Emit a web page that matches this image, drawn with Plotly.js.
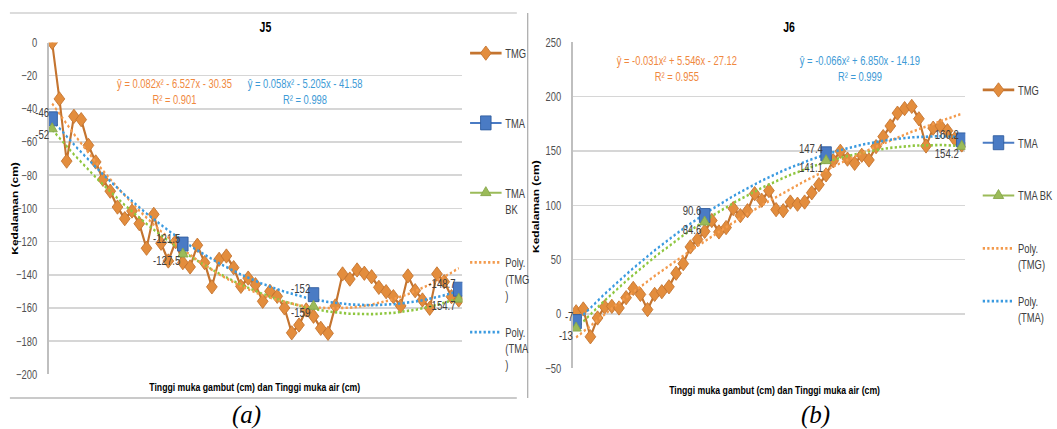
<!DOCTYPE html>
<html><head><meta charset="utf-8">
<script src="https://cdn.plot.ly/plotly-3.0.1.min.js"></script>
<style>
html,body{margin:0;padding:0;background:#fff;}
#wrap{position:relative;width:1057px;height:429px;overflow:hidden;background:#fff;}
#chart{position:absolute;left:0;top:0;width:1409px;height:429px;transform:scaleX(0.75018);transform-origin:0 0;}
#cap{position:absolute;left:0;top:0;width:1057px;height:429px;pointer-events:none;}
</style>
</head><body><div id="wrap"><div id="chart"></div><div id="cap"></div></div>
<script>
// ---------- J5 ----------
const j5Tmg = [0, -34, -71.5, -44.5, -46.5, -62, -72, -82.5, -89.6, -99.2, -106.2, -101.6, -109.2, -124, -103.6, -121, -131.7, -120, -132.7, -135.3, -122.2, -132.7, -147.3, -130.7, -128.7, -135.7, -147, -142, -146, -156, -150, -153, -160, -175, -170.3, -161.2, -165, -172.3, -175.3, -158.8, -139.5, -142.6, -137.1, -139.1, -141.2, -147.6, -150.2, -153.2, -158.8, -140.7, -149.6, -155.2, -160.2, -139.5, -144.2, -153.2, -155.2];
const j5TmaIdx = [0, 18, 36, 56];
const j5Tma = [-46, -121.5, -152, -148.7];
const j5TmaBk = [-52, -127.5, -159, -154.7];
const j5PolyTmg = [0.082, -6.527, -30.35];
const j5PolyTma = [0.058, -5.205, -41.58];
const j5EqTmg = ['ŷ = 0.082x² - 6.527x - 30.35', 'R² = 0.901'];
const j5EqTma = ['ŷ = 0.058x² - 5.205x - 41.58', 'R² = 0.998'];

// ---------- J6 ----------
const j6Tmg = [2, 4.6, -21, -3.7, 6.5, 7, 5.5, 15, 23.5, 18, 4, 18, 20.5, 25, 37.5, 46.3, 61.7, 68.5, 76, 86, 75.5, 79.5, 97, 90.5, 95, 110.7, 104.6, 113.5, 96, 95, 103, 101, 103, 111.5, 119, 128, 141, 149.7, 142.5, 138.6, 146, 141.7, 154, 163.2, 173, 184.8, 189, 191, 179.6, 154.6, 171, 173, 168.6, 161, 155.5];
const j6TmaIdx = [0, 18, 35, 54];
const j6Tma = [-7, 90.6, 147.4, 160.2];
const j6TmaBk = [-13, 84.6, 141.1, 154.2];
const j6PolyTmg = [-0.031, 5.546, -27.12];
const j6PolyTma = [-0.066, 6.850, -14.19];
const j6EqTmg = ['ŷ = -0.031x² + 5.546x - 27.12', 'R² = 0.955'];
const j6EqTma = ['ŷ = -0.066x² + 6.850x - 14.19', 'R² = 0.999'];

const legendJ5 = ['TMG', 'TMA', 'TMA<br>BK', 'Poly.<br>(TMG<br>)', 'Poly.<br>(TMA<br>)'];
const legendJ6 = ['TMG', 'TMA', 'TMA BK', 'Poly.<br>(TMG)', 'Poly.<br>(TMA)'];
const captions = ['(a)', '(b)'];

// ---------- helpers ----------
const W = 1057, H = 429, WP = 1409;   // plot drawn wide, then squeezed like the source image
const px = x => x / W, py = y => 1 - y / H;
const FONT = '"Liberation Sans", Arial, sans-serif';
const C = {
  tmgLine: '#c4742f', tmgFill: '#e38d3d', tma: '#4a7bc4', tmaEdge: '#2f5c9e',
  bk: '#9bbb59', bkEdge: '#86a64a', pTmg: '#f39a4c', pTma: '#3a9ae0', pBk: '#8ec63f',
  eqO: '#f0883e', eqB: '#3d9ad6'
};

function quadFit(xs, ys) {
  const S = [0, 0, 0, 0, 0], T = [0, 0, 0];
  xs.forEach((x, i) => {
    for (let k = 0; k < 5; k++) S[k] += Math.pow(x, k);
    for (let k = 0; k < 3; k++) T[k] += ys[i] * Math.pow(x, k);
  });
  const M = [[S[4], S[3], S[2]], [S[3], S[2], S[1]], [S[2], S[1], S[0]]];
  const r = [T[2], T[1], T[0]];
  const det = m => m[0][0]*(m[1][1]*m[2][2]-m[1][2]*m[2][1]) - m[0][1]*(m[1][0]*m[2][2]-m[1][2]*m[2][0]) + m[0][2]*(m[1][0]*m[2][1]-m[1][1]*m[2][0]);
  const D = det(M);
  return [0, 1, 2].map(c => det(M.map((row, i) => row.map((v, j) => j === c ? r[i] : v))) / D);
}
function trend(coef, i0, i1) {
  const xs = [], ys = [];
  for (let i = i0; i <= i1 + 1e-9; i += 0.25) {
    const x = i + 1; xs.push(i); ys.push(coef[0]*x*x + coef[1]*x + coef[2]);
  }
  return {xs, ys};
}
function gapped(idx, vals) {
  const x = [], y = [];
  idx.forEach((v, k) => { if (k) { x.push(null); y.push(null); } x.push(v); y.push(vals[k]); });
  return {x, y};
}
function pad(name, lines) {
  const n = name.split('<br>').length;
  let s = name;
  for (let k = n; k < lines; k++) s += '<br>\u00a0';
  return s;
}

function build(tmg, tmaIdx, tma, bk, pTmg, pTma, names, xa, ya, leg, lines) {
  const idx = tmg.map((_, i) => i);
  const n = tmg.length - 1;
  const last = tmaIdx[tmaIdx.length - 1];
  const tA = gapped(tmaIdx, tma), tB = gapped(tmaIdx, bk);
  const bkCoef = quadFit(tmaIdx.map(v => v + 1), bk);
  const tr1 = trend(pTmg, 0, n), tr2 = trend(pTma, 0, last), tr3 = trend(bkCoef, 0, last);
  const common = {xaxis: xa, yaxis: ya, legend: leg, hoverinfo: 'skip'};
  return [
    Object.assign({type: 'scatter', mode: 'lines+markers', x: idx, y: tmg, name: pad(names[0], lines), legendgroup: leg + 'a', legendrank: 1,
      line: {color: C.tmgLine, width: 2.8}, marker: {symbol: 'diamond', size: 11, color: C.tmgFill, line: {color: C.tmgLine, width: 1}}}, common),
    Object.assign({type: 'scatter', mode: 'lines', x: tr3.xs, y: tr3.ys, showlegend: false,
      line: {color: C.pBk, width: 2.6, dash: 'dot'}}, common),
    Object.assign({type: 'scatter', mode: 'lines', x: tr1.xs, y: tr1.ys, name: pad(names[3], lines), legendgroup: leg + 'd', legendrank: 4,
      line: {color: C.pTmg, width: 2.6, dash: 'dot'}}, common),
    Object.assign({type: 'scatter', mode: 'lines', x: tr2.xs, y: tr2.ys, name: pad(names[4], lines), legendgroup: leg + 'e', legendrank: 5,
      line: {color: C.pTma, width: 2.6, dash: 'dot'}}, common),
    Object.assign({type: 'scatter', mode: 'lines+markers', x: tA.x, y: tA.y, connectgaps: false, name: pad(names[1], lines), legendgroup: leg + 'b', legendrank: 2,
      line: {color: C.tma, width: 2}, marker: {symbol: 'square', size: 14, color: C.tma, line: {color: C.tmaEdge, width: 1}}}, common),
    Object.assign({type: 'scatter', mode: 'lines+markers', x: tB.x, y: tB.y, connectgaps: false, name: pad(names[2], lines), legendgroup: leg + 'c', legendrank: 3,
      line: {color: C.bk, width: 2}, marker: {symbol: 'triangle-up', size: 12, color: C.bk, line: {color: C.bkEdge, width: 1}}}, common)
  ];
}

const traces = [].concat(
  build(j5Tmg, j5TmaIdx, j5Tma, j5TmaBk, j5PolyTmg, j5PolyTma, legendJ5, 'x', 'y', 'legend', 3),
  build(j6Tmg, j6TmaIdx, j6Tma, j6TmaBk, j6PolyTmg, j6PolyTma, legendJ6, 'x2', 'y2', 'legend2', 2)
);

// ---------- annotations ----------
const ann = [];
const txt = (text, x, y, o) => ann.push(Object.assign({text, x, y, xref: 'paper', yref: 'paper', showarrow: false,
  xanchor: 'center', yanchor: 'middle', font: {family: FONT, size: 12, color: '#000'}}, o || {}));
txt('<b>J5</b>', px(268), py(27), {font: {family: FONT, size: 14, color: '#000'}});
txt('<b>J6</b>', px(797), py(27), {font: {family: FONT, size: 14, color: '#000'}});
txt('<b>Kedalaman (cm)</b>', px(15), py(208), {textangle: -90, font: {family: FONT, size: 12, color: '#000'}});
txt('<b>Kedalaman (cm)</b>', px(541), py(206), {textangle: -90, font: {family: FONT, size: 12, color: '#000'}});
txt('<b>Tinggi muka gambut (cm) dan Tinggi muka air (cm)</b>', px(257), py(386), {font: {family: FONT, size: 11.6, color: '#000'}});
txt('<b>Tinggi muka gambut (cm) dan Tinggi muka air (cm)</b>', px(782), py(389), {font: {family: FONT, size: 11.6, color: '#000'}});
txt(j5EqTmg.join('<br>'), px(176), py(91.5), {font: {family: FONT, size: 12.5, color: C.eqO}});
txt(j5EqTma.join('<br>'), px(308), py(91.5), {font: {family: FONT, size: 12.5, color: C.eqB}});
txt(j6EqTmg.join('<br>'), px(684), py(69), {font: {family: FONT, size: 12.5, color: C.eqO}});
txt(j6EqTma.join('<br>'), px(869), py(69), {font: {family: FONT, size: 12.5, color: C.eqB}});

function labels(idx, vals, xa, ya, ys) {
  idx.forEach((i, k) => ann.push({x: i, y: vals[k], xref: xa, yref: ya, text: String(vals[k]), showarrow: false,
    xanchor: 'right', yanchor: 'middle', xshift: -2, yshift: ys, font: {family: FONT, size: 12.8, color: '#404040'}}));
}
labels(j5TmaIdx, j5Tma, 'x', 'y', 6);
labels(j5TmaIdx, j5TmaBk, 'x', 'y', -6);
labels(j6TmaIdx, j6Tma, 'x2', 'y2', 5);
labels(j6TmaIdx, j6TmaBk, 'x2', 'y2', -7);

const yCommon = {ticks: '', showline: true, linecolor: '#bfbfbf', linewidth: 1.6, zeroline: false,
  gridcolor: '#d6d6d6', gridwidth: 1.5, ticklabelstandoff: 11, tickfont: {family: FONT, size: 12.5, color: '#505050'}, fixedrange: true};
const xCommon = {showgrid: false, zeroline: false, showticklabels: false, showline: false, ticks: '', fixedrange: true};
const legCommon = {xanchor: 'left', yanchor: 'top', bgcolor: 'rgba(0,0,0,0)', valign: 'top', itemwidth: 42,
  font: {family: FONT, size: 12.5, color: '#404040'}, itemclick: false, itemdoubleclick: false};

const layout = {
  width: WP, height: H, autosize: false, margin: {l: 0, r: 0, t: 0, b: 0},
  paper_bgcolor: '#fff', plot_bgcolor: 'rgba(0,0,0,0)', hovermode: false,
  xaxis: Object.assign({domain: [px(49), px(467)], range: [-0.5, j5Tmg.length - 0.5], anchor: 'y'}, xCommon),
  yaxis: Object.assign({domain: [py(374.3), py(42.5)], range: [-200, 0], dtick: 20, anchor: 'x'}, yCommon),
  xaxis2: Object.assign({domain: [px(578.3), px(975)], range: [-0.5, j6Tmg.length - 0.5], anchor: 'y2'}, xCommon),
  yaxis2: Object.assign({domain: [py(368.3), py(42.3)], range: [-50, 250], dtick: 50, anchor: 'x2'}, yCommon),
  legend: Object.assign({x: px(471), y: py(38.5), tracegroupgap: 18}, legCommon),
  legend2: Object.assign({x: px(989), y: py(75.3), tracegroupgap: 17.3}, legCommon),
  annotations: ann,
  shapes: [
    {type: 'line', xref: 'paper', yref: 'paper', x0: px(10), x1: px(522), y0: py(13), y1: py(13), line: {color: '#d0d0d0', width: 1.5}},
    {type: 'line', xref: 'paper', yref: 'paper', x0: px(10), x1: px(522), y0: py(398), y1: py(398), line: {color: '#b8b8b8', width: 1.5}},
    {type: 'line', xref: 'paper', yref: 'paper', x0: px(533), x1: px(533), y0: py(13), y1: py(398), line: {color: '#a8a8a8', width: 1.6}}
  ]
};
Plotly.newPlot('chart', traces, layout, {displayModeBar: false, staticPlot: true});

// captions of the two panels (not squeezed)
const capLayout = {
  width: W, height: H, autosize: false, margin: {l: 0, r: 0, t: 0, b: 0},
  paper_bgcolor: 'rgba(0,0,0,0)', plot_bgcolor: 'rgba(0,0,0,0)', hovermode: false,
  xaxis: {visible: false}, yaxis: {visible: false},
  annotations: captions.map((c, k) => ({text: '<i>' + c + '</i>', x: px([246, 815][k]), y: py(415), xref: 'paper', yref: 'paper',
    xanchor: 'center', yanchor: 'middle', showarrow: false,
    font: {family: '"Liberation Serif", "Times New Roman", serif', size: 25, color: '#000'}}))
};
Plotly.newPlot('cap', [], capLayout, {displayModeBar: false, staticPlot: true});
</script></body></html>
